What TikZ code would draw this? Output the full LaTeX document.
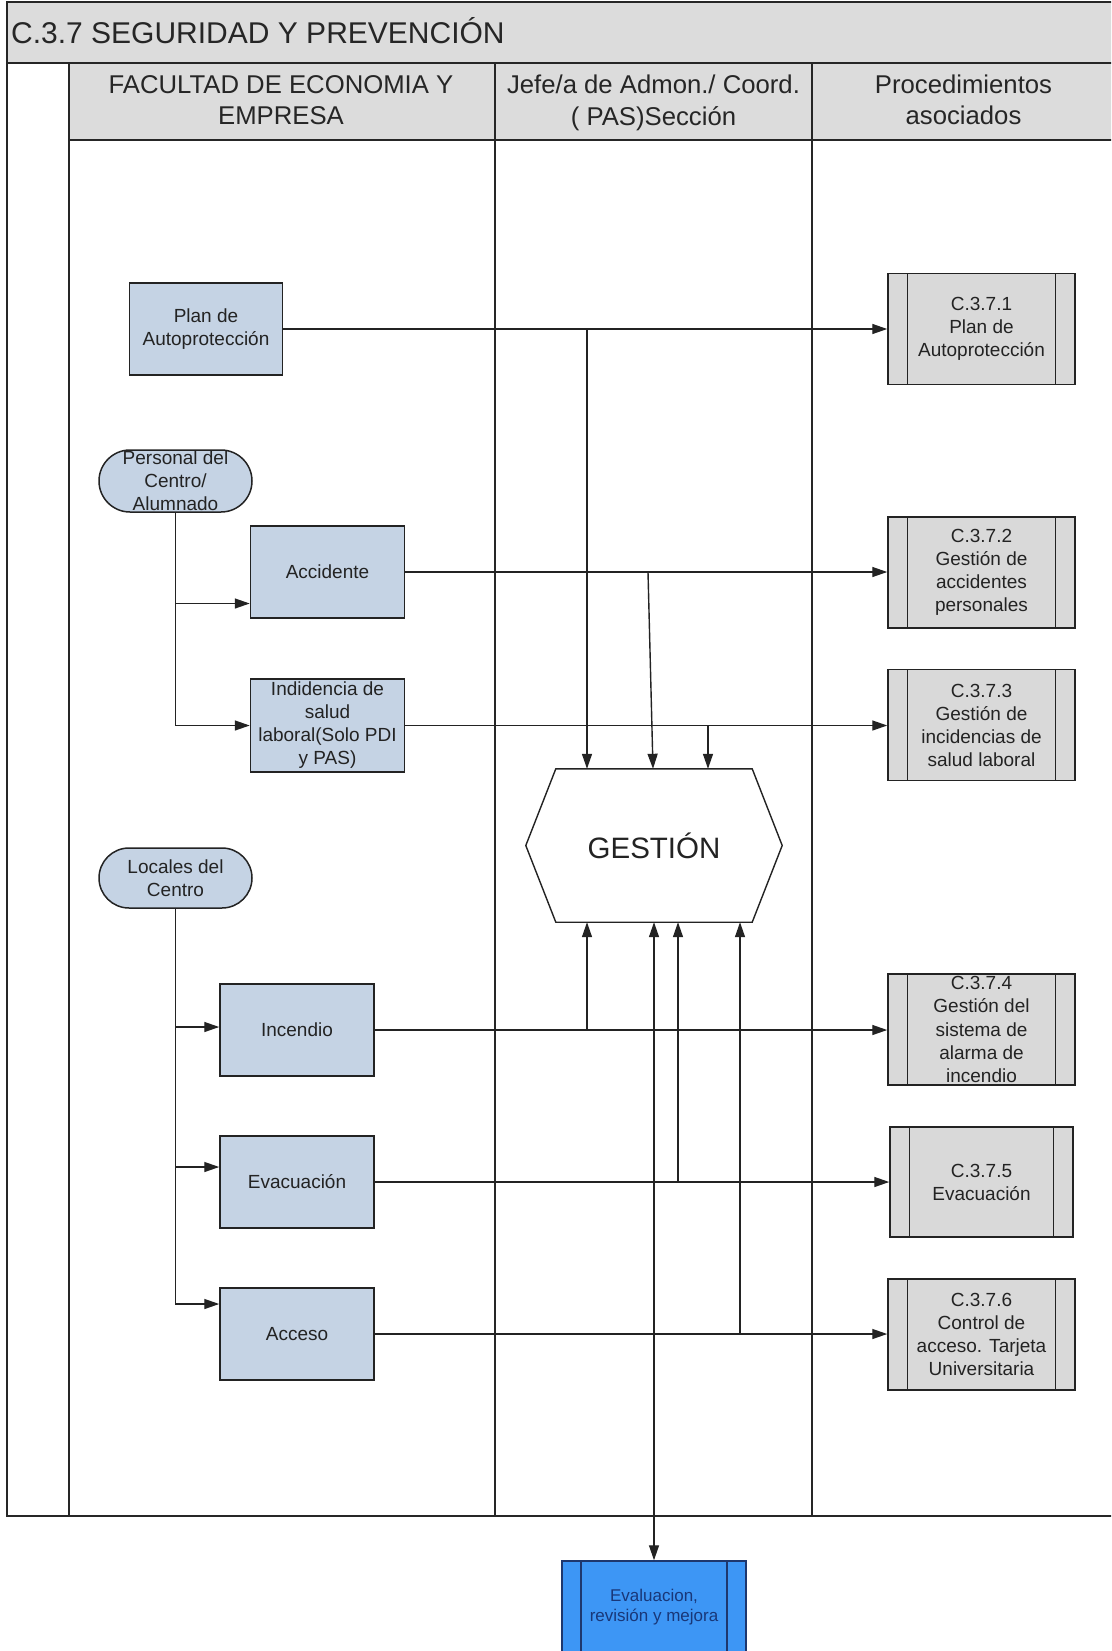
\documentclass[tikz,border=0pt]{standalone}
\usepackage{fontspec}
\setmainfont{Liberation Sans}
\usetikzlibrary{arrows.meta,shapes.misc,calc}
\definecolor{procfill}{RGB}{197,211,228}
\definecolor{subfill}{RGB}{217,217,217}
\definecolor{headfill}{RGB}{220,220,220}
\definecolor{linec}{RGB}{35,35,35}
\definecolor{textc}{RGB}{35,35,35}
\definecolor{evalfill}{RGB}{61,150,245}
\definecolor{evalline}{RGB}{30,55,110}
\definecolor{evaltext}{RGB}{25,55,120}
\newcommand{\bxfont}{\fontsize{19}{23}\selectfont}
\begin{document}
\begin{tikzpicture}[x=1pt,y=-1pt,
  >={Triangle[length=15pt,width=10pt]},
  frame/.style={draw=black!85,line width=2pt},
  conn/.style={draw=linec,line width=1.4pt},
  proc/.style={rectangle,draw=linec,fill=procfill,line width=1.5pt,minimum width=154pt,minimum height=92pt,inner sep=0pt,align=center,font=\bxfont,text=textc},
  term/.style={rounded rectangle,draw=linec,fill=procfill,line width=1.5pt,minimum width=153pt,minimum height=62pt,inner sep=0pt,align=center,font=\bxfont,text=textc},
  sub/.style={rectangle,draw=linec,fill=subfill,line width=1.5pt,minimum width=187pt,minimum height=111pt,inner sep=0pt,align=center,font=\bxfont,text=textc,
    path picture={\draw[linec,line width=1.5pt]
      ([xshift=19.5pt]path picture bounding box.north west) -- ([xshift=19.5pt]path picture bounding box.south west)
      ([xshift=-19.5pt]path picture bounding box.north east) -- ([xshift=-19.5pt]path picture bounding box.south east);}},
  evalbox/.style={rectangle,draw=evalline,fill=evalfill,line width=1.5pt,minimum width=184pt,minimum height=92pt,inner sep=0pt,align=center,font=\fontsize{17}{20}\selectfont,text=evaltext,
    path picture={\draw[evalline,line width=1.5pt]
      ([xshift=19pt]path picture bounding box.north west) -- ([xshift=19pt]path picture bounding box.south west)
      ([xshift=-19pt]path picture bounding box.north east) -- ([xshift=-19pt]path picture bounding box.south east);}},
  head/.style={align=center,font=\fontsize{25.7}{31.5}\selectfont,text=black!85,inner sep=0pt}
]
\path[use as bounding box] (0,0) rectangle (1111,1651);
\clip (0,0) rectangle (1111,1651);
\fill[white] (0,0) rectangle (1111,1651);

% title bar and header band
\fill[headfill] (7,2) rectangle (1120,63);
\fill[headfill] (68.5,63) rectangle (1120,140);
\draw[frame] (7,2) rectangle (1120,63);
\draw[frame] (68.5,140) -- (1120,140);
\draw[frame] (7,63) -- (7,1516) -- (1120,1516);
\draw[frame] (68.5,63) -- (68.5,1516);
\draw[frame] (495,63) -- (495,1516);
\draw[frame] (812,63) -- (812,1516);

\node[anchor=west,font=\fontsize{30}{34}\selectfont,text=black!85,inner sep=0pt] (title) at (11,31) {C.3.7 SEGURIDAD Y PREVENCIÓN};
\node[head] (h1) at (281,100) {FACULTAD DE ECONOMIA Y\\EMPRESA};
\node[head] (h2) at (653.5,103) {Jefe/a de Admon./ Coord.\\( PAS)Sección};
\node[head] (h3) at (963.5,100) {Procedimientos\\asociados};

% nodes
\node[proc,minimum width=153pt] (plan) at (206,329) {Plan de\\Autoprotección};
\node[term] (pers) at (175.5,481) {Personal del\\Centro/\\Alumnado};
\node[proc] (acc) at (327.5,572) {Accidente};
\node[proc,minimum height=93pt] (ind) at (327.5,725.5) {Indidencia de\\salud\\laboral(Solo PDI\\y PAS)};
\node[term,minimum height=60pt] (loc) at (175.5,878) {Locales del\\Centro};
\node[proc] (inc) at (297,1030) {Incendio};
\node[proc] (evac) at (297,1182) {Evacuación};
\node[proc] (accs) at (297,1334) {Acceso};

\node[sub] (c371) at (981.5,329) {C.3.7.1\\Plan de\\Autoprotección};
\node[sub] (c372) at (981.5,572.5) {C.3.7.2\\Gestión de\\accidentes\\personales};
\node[sub] (c373) at (981.5,725) {C.3.7.3\\Gestión de\\incidencias de\\salud laboral};
\node[sub,font=\fontsize{19}{23.4}\selectfont] (c374) at (981.5,1029.5) {C.3.7.4\\Gestión del\\sistema de\\alarma de\\incendio};
\node[sub,minimum width=183pt,minimum height=110pt] (c375) at (981.5,1182) {C.3.7.5\\Evacuación};
\node[sub] (c376) at (981.5,1334.5) {C.3.7.6\\Control de\\acceso. Tarjeta\\Universitaria};

\node[minimum width=256pt,minimum height=153pt,inner sep=0pt,font=\fontsize{29.5}{32}\selectfont,text=textc] (gest) at (654,845.5) {GESTIÓN};
\draw[draw=linec,line width=1.4pt]
  ([xshift=30pt]gest.north west) -- ([xshift=-30pt]gest.north east) -- (gest.east)
  -- ([xshift=-30pt]gest.south east) -- ([xshift=30pt]gest.south west) -- (gest.west) -- cycle;

\node[evalbox] (eval) at (654,1607) {Evaluacion,\\revisión y mejora};

% horizontal connectors to procedures
\draw[conn,->] (plan.east) -- (plan.east -| c371.west);
\draw[conn,->] (acc.east) -- (acc.east -| c372.west);
\draw[conn,->] (ind.east) -- (ind.east -| c373.west);
\draw[conn,->] (inc.east) -- (inc.east -| c374.west);
\draw[conn,->] (evac.east) -- (evac.east -| c375.west);
\draw[conn,->] (accs.east) -- (accs.east -| c376.west);

% branches into GESTION
\coordinate (j1) at (587,329);
\coordinate (j2) at (648,572);
\coordinate (j2e) at (653,700);
\coordinate (j3) at (708,725.5);
\coordinate (j4) at (587,1030);
\coordinate (j5) at (678,1182);
\coordinate (j6) at (740,1334);
\draw[conn,->] (j1) -- (j1 |- gest.north);
\draw[conn,->] (j2) -- (j2e |- gest.north);
\draw[conn,->] (j3) -- (j3 |- gest.north);
\draw[conn,->] (j4) -- (j4 |- gest.south);
\draw[conn,->] (j5) -- (j5 |- gest.south);
\draw[conn,->] (j6) -- (j6 |- gest.south);
\draw[conn,<->] (gest.south) -- (eval.north);

% left feeders
\coordinate (pa) at (175.5,603.5);
\draw[conn,->] (pers.south) |- (ind.west);
\draw[conn,->] (pa) -- (pa -| acc.west);
\coordinate (li) at (175.5,1027);
\coordinate (le) at (175.5,1167);
\coordinate (la) at (175.5,1304);
\draw[conn,->] (loc.south) -- (la) -- (la -| accs.west);
\draw[conn,->] (li) -- (li -| inc.west);
\draw[conn,->] (le) -- (le -| evac.west);
\end{tikzpicture}
\end{document}
